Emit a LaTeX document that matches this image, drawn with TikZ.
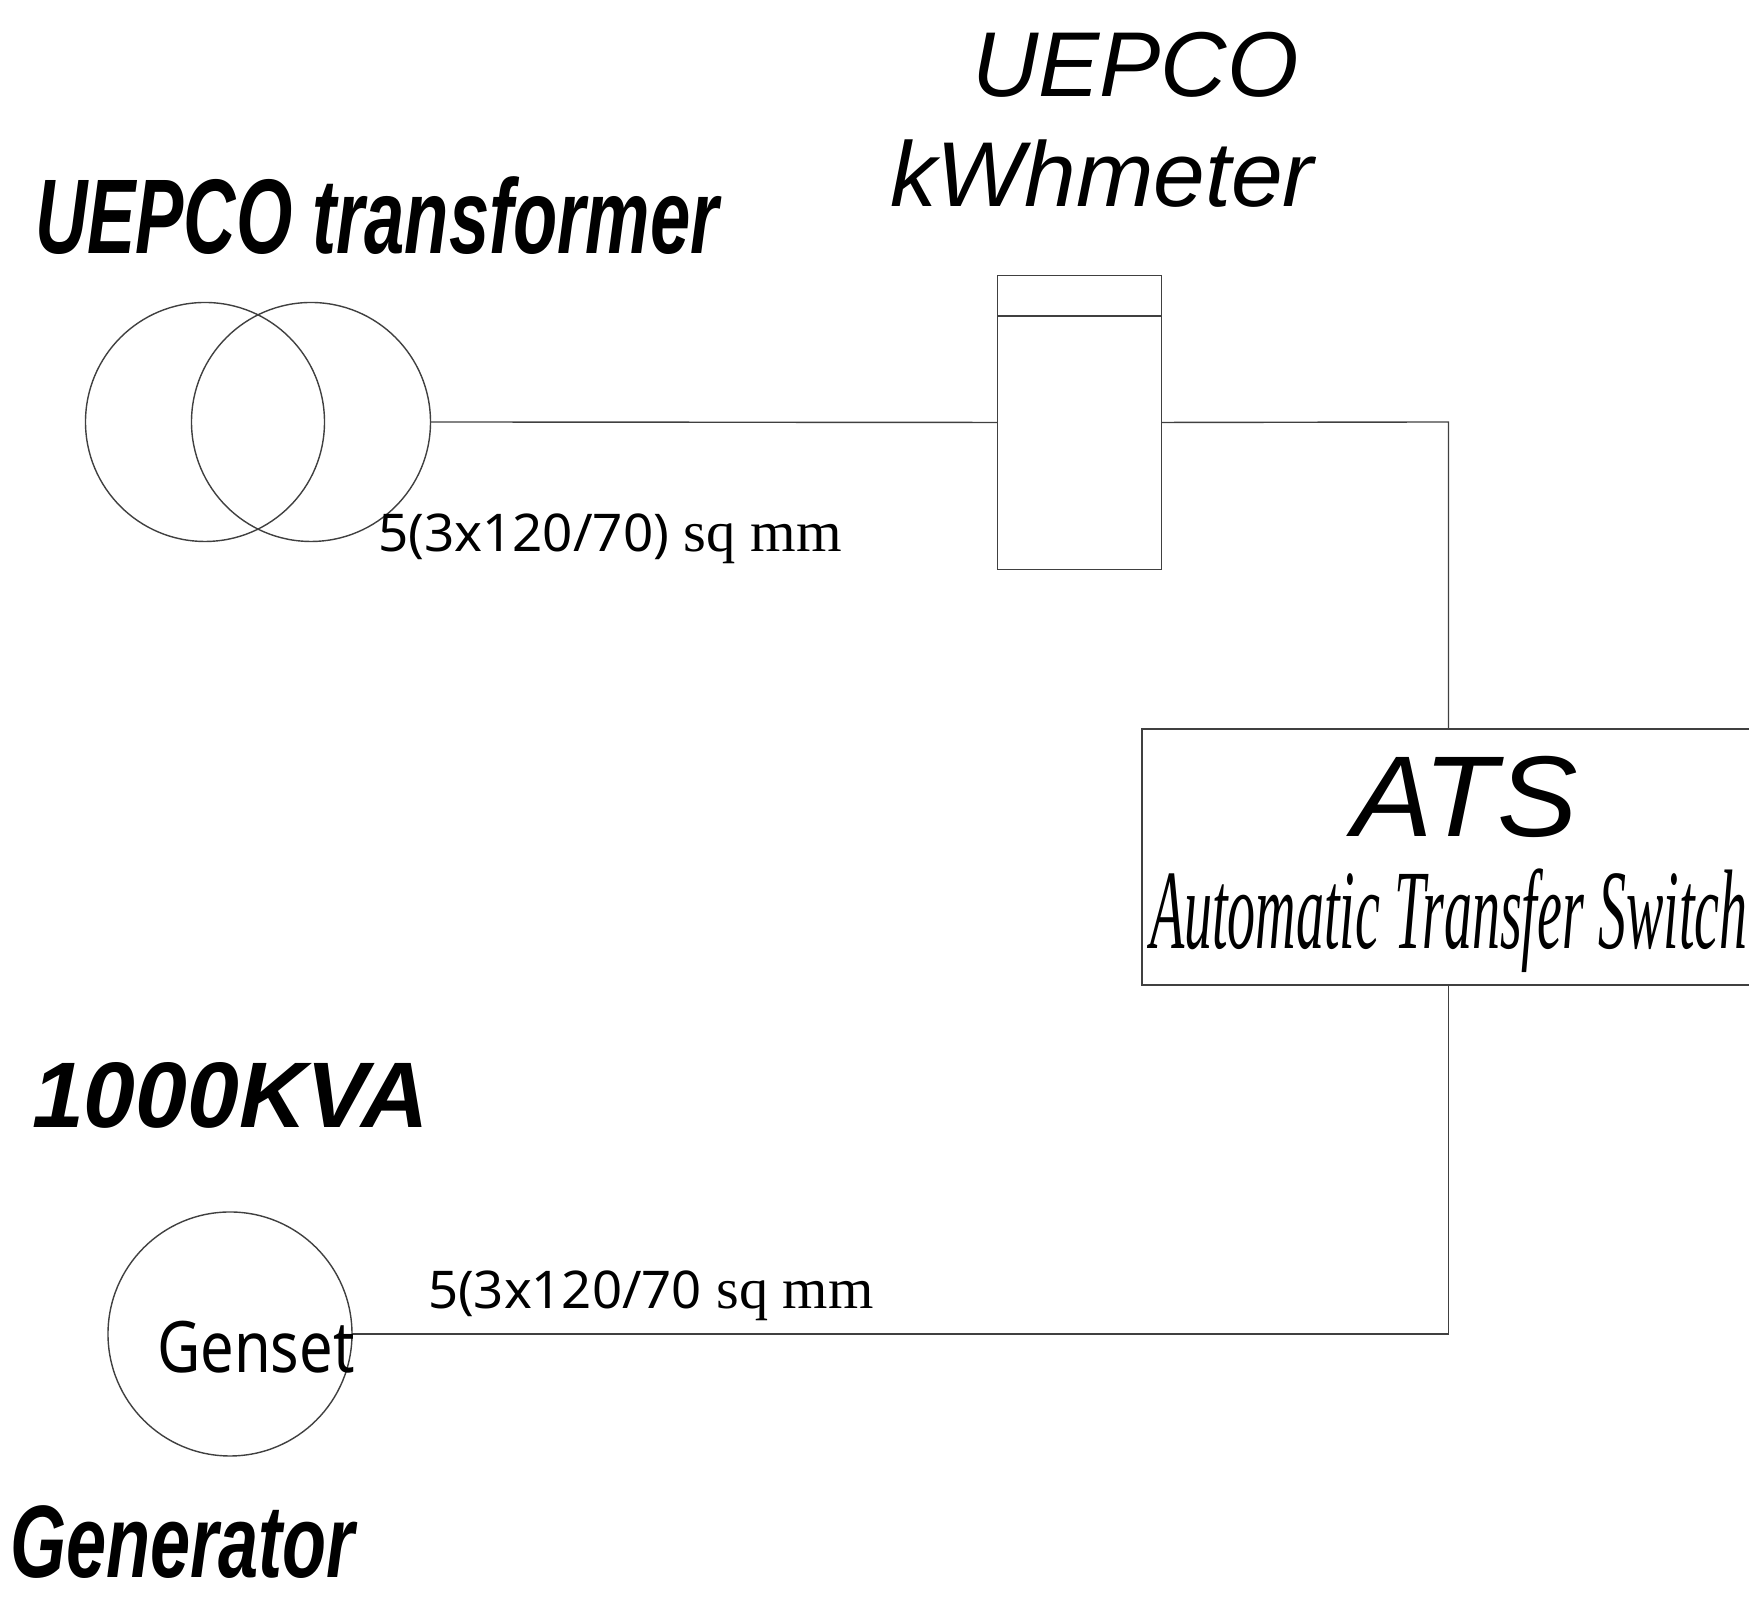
\documentclass[tikz,border=0pt]{standalone}
\usepackage{fontspec}
\usepackage{tikz}
\newfontfamily\armfont{Liberation Sans}
\newfontfamily\timfont{Liberation Serif}
\newfontfamily\notfont{Noto Sans}
\newcommand{\cablesize}[1]{{\notfont\fontsize{14.8}{14.8}\selectfont #1}{\timfont\fontsize{16.4}{16.4}\selectfont\ sq mm}}
\tikzset{
wire/.style={draw=black!75,line width=.4pt},
equip/.style={wire,inner sep=0pt,outer sep=0pt},
tag/.style={anchor=base west,inner sep=0pt,outer sep=0pt,transform shape},
}
\begin{document}
\begin{tikzpicture}[scale=1]
\useasboundingbox (0,0) rectangle (17.49,15.97);
\clip (0,0) rectangle (17.49,15.97);
\node[equip,circle,minimum size=2.39cm] (xfmra) at (2.05,11.75) {};
\node[equip,circle,minimum size=2.39cm] (xfmrb) at (3.11,11.75) {};
\node[equip,rectangle,minimum width=1.635cm,minimum height=2.94cm] (meter) at (10.795,11.745) {};
\node[equip,rectangle,minimum width=6.3cm,minimum height=2.56cm,anchor=north west] (ats) at (11.42,8.68) {};
\node[equip,circle,minimum size=2.44cm] (genset) at (2.30,2.63) {};
\coordinate (atsin) at (14.485,11.75);
\draw[wire] ([yshift=-.405cm]meter.north west) -- ([yshift=-.405cm]meter.north east);
\draw[wire] (xfmrb.east) -- (meter.west);
\draw[wire] (meter.east) -- (atsin) -- (atsin |- ats.north);
\draw[wire] (atsin |- ats.south) -- (atsin |- genset.east) -- (genset.east);
\node[tag,xscale=.682,font=\armfont\fontsize{30.2}{30.2}\selectfont\bfseries\itshape] (xfmrtag) at (.35,13.43) {UEPCO transformer};
\node[tag,xscale=.997,font=\armfont\fontsize{26.2}{26.2}\selectfont\itshape] (metertaga) at (9.72,15.00) {UEPCO};
\node[tag,xscale=1.01,font=\armfont\fontsize{26.2}{26.2}\selectfont\itshape] (metertagb) at (8.90,13.90) {kWhmeter};
\node[tag,xscale=1.05,font=\armfont\fontsize{32.7}{32.7}\selectfont\itshape] (atstaga) at (13.52,7.60) {ATS};
\node[tag,xscale=.495,font=\timfont\fontsize{32.2}{32.2}\selectfont\itshape] (atstagb) at (11.50,6.48) {Automatic Transfer Switch};
\node[tag,xscale=1.017] (cablea) at (3.78,10.45) {\cablesize{5(3x120/70)}};
\node[tag,xscale=1.012] (cableb) at (4.28,2.885) {\cablesize{5(3x120/70}};
\node[tag,xscale=.84,font=\notfont\fontsize{20.2}{20.2}\selectfont] (gensettag) at (1.57,2.24) {Genset};
\node[tag,xscale=1.0,font=\armfont\fontsize{26.5}{26.5}\selectfont\bfseries\itshape] (kvatag) at (.32,4.69) {1000KVA};
\node[tag,xscale=.70,font=\armfont\fontsize{29.3}{29.3}\selectfont\bfseries\itshape] (gentag) at (.10,.19) {Generator};
\end{tikzpicture}
\end{document}
